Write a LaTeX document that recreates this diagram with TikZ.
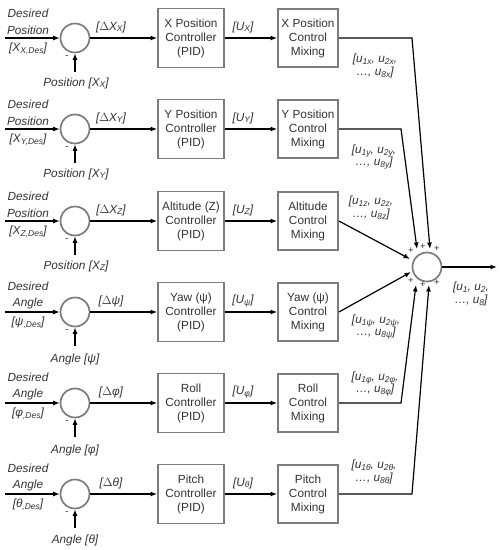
\documentclass[tikz,border=0pt]{standalone}
\usepackage{fontspec}
\setmainfont{Liberation Sans}
\usetikzlibrary{arrows.meta}
\definecolor{txtgray}{HTML}{333333}
\definecolor{boxgray}{HTML}{7c7c7c}
\newcommand{\sbs}[1]{\raisebox{-0.3ex}{\fontsize{8.5}{8.5}\selectfont #1}}
\tikzset{
  ctrlbox/.style={draw=boxgray, line width=1.8pt, minimum width=66pt, minimum height=59pt,
    align=center, text=txtgray, inner sep=0pt, font=\fontsize{11.8}{14}\selectfont},
  mixbox/.style={ctrlbox, minimum width=60pt, minimum height=58pt},
  sumc/.style={circle, draw=boxgray, line width=1.7pt, minimum size=29pt, inner sep=0pt},
  lbl/.style={font=\fontsize{11.8}{12.5}\selectfont\itshape, text=txtgray, align=center, inner sep=0pt},
  sgn/.style={font=\fontsize{9.5}{9.5}\selectfont, text=txtgray, inner sep=0pt},
  sig/.style={-{Latex[length=6.5pt,width=5pt]}, line width=1.2pt, black}
}
\begin{document}
\begin{tikzpicture}[x=1pt,y=-1pt]
\useasboundingbox (0,0) rectangle (500,550);

% ---------- sum ----------
\node[sumc] (sum) at (427,267) {};
\coordinate (out) at (497,267);
\draw[sig] (sum) -- (out);
\node[lbl] (outl) at (471,294) {[u\sbs{1}, u\sbs{2},\\\dots, u\sbs{8}]};
\node[sgn] (p1) at (411,251) {+};
\node[sgn] (p2) at (423,247) {+};
\node[sgn] (p3) at (437,249) {+};
\node[sgn] (p4) at (411,281) {+};
\node[sgn] (p5) at (423,285) {+};
\node[sgn] (p6) at (437,283) {+};

% ---------- row 1 ----------
\node[sumc] (e1) at (75,38) {};
\coordinate (in1) at (5,38);
\draw[sig] (in1) -- (e1);
\node[lbl] (da1) at (28,13) {Desired};
\node[lbl] (db1) at (28,30) {Position};
\node[lbl] (dc1) at (28,49) {[X\sbs{X,Des}]};
\coordinate (fb1) at (75,72);
\draw[sig] (fb1) -- (e1);
\node[lbl] (fl1) at (76,83) {Position [X\sbs{X}]};
\node[sgn] (m1) at (67,57) {-};
\node[ctrlbox] (c1) at (191,38) {X Position\\Controller\\(PID)};
\draw[sig] (e1) -- (c1);
\node[lbl] (dl1) at (111,27) {[$\Delta$X\sbs{X}]};
\node[mixbox] (x1) at (308,38) {X Position\\Control\\Mixing};
\draw[sig] (c1) -- (x1);
\node[lbl] (u1) at (243,27) {[U\sbs{X}]};
\node[lbl] (o1) at (375,66) {[u\sbs{1x}, u\sbs{2x},\\\dots, u\sbs{8x}]};
\coordinate (k1) at (412,38);
\coordinate (t1) at (430,249);
\draw[sig] (x1) -- (k1) -- (t1);

% ---------- row 2 ----------
\node[sumc] (e2) at (75,129) {};
\coordinate (in2) at (5,129);
\draw[sig] (in2) -- (e2);
\node[lbl] (da2) at (28,104) {Desired};
\node[lbl] (db2) at (28,121) {Position};
\node[lbl] (dc2) at (28,140) {[X\sbs{Y,Des}]};
\coordinate (fb2) at (75,163);
\draw[sig] (fb2) -- (e2);
\node[lbl] (fl2) at (76,174) {Position [X\sbs{Y}]};
\node[sgn] (m2) at (67,148) {-};
\node[ctrlbox] (c2) at (191,129) {Y Position\\Controller\\(PID)};
\draw[sig] (e2) -- (c2);
\node[lbl] (dl2) at (111,118) {[$\Delta$X\sbs{Y}]};
\node[mixbox] (x2) at (308,129) {Y Position\\Control\\Mixing};
\draw[sig] (c2) -- (x2);
\node[lbl] (u2) at (243,118) {[U\sbs{Y}]};
\node[lbl] (o2) at (374,157) {[u\sbs{1y}, u\sbs{2y},\\\dots, u\sbs{8y}]};
\coordinate (k2) at (401,129);
\coordinate (t2) at (417,249);
\draw[sig] (x2) -- (k2) -- (t2);

% ---------- row 3 ----------
\node[sumc] (e3) at (75,221) {};
\coordinate (in3) at (5,221);
\draw[sig] (in3) -- (e3);
\node[lbl] (da3) at (28,196) {Desired};
\node[lbl] (db3) at (28,213) {Position};
\node[lbl] (dc3) at (28,232) {[X\sbs{Z,Des}]};
\coordinate (fb3) at (75,255);
\draw[sig] (fb3) -- (e3);
\node[lbl] (fl3) at (76,266) {Position [X\sbs{Z}]};
\node[sgn] (m3) at (67,240) {-};
\node[ctrlbox] (c3) at (191,221) {Altitude (Z)\\Controller\\(PID)};
\draw[sig] (e3) -- (c3);
\node[lbl] (dl3) at (111,210) {[$\Delta$X\sbs{Z}]};
\node[mixbox] (x3) at (308,221) {Altitude\\Control\\Mixing};
\draw[sig] (c3) -- (x3);
\node[lbl] (u3) at (243,210) {[U\sbs{Z}]};
\node[lbl] (o3) at (371,208) {[u\sbs{1z}, u\sbs{2z},\\\dots, u\sbs{8z}]};
\coordinate (t3) at (410,259);
\draw[sig] (x3.east) -- (t3);

% ---------- row 4 ----------
\node[sumc] (e4) at (75,312) {};
\coordinate (in4) at (5,312);
\draw[sig] (in4) -- (e4);
\node[lbl] (da4) at (28,286) {Desired};
\node[lbl] (db4) at (28,303) {Angle};
\node[lbl] (dc4) at (28,323) {[ψ\sbs{,Des}]};
\coordinate (fb4) at (75,346);
\draw[sig] (fb4) -- (e4);
\node[lbl] (fl4) at (75,359) {Angle [ψ]};
\node[sgn] (m4) at (67,331) {-};
\node[ctrlbox] (c4) at (191,312) {Yaw (ψ)\\Controller\\(PID)};
\draw[sig] (e4) -- (c4);
\node[lbl] (dl4) at (111,301) {[$\Delta$ψ]};
\node[mixbox] (x4) at (308,312) {Yaw (ψ)\\Control\\Mixing};
\draw[sig] (c4) -- (x4);
\node[lbl] (u4) at (243,301) {[U\sbs{ψ}]};
\node[lbl] (o4) at (376,327) {[u\sbs{1ψ}, u\sbs{2ψ},\\\dots, u\sbs{8ψ}]};
\coordinate (t4) at (411,272);
\draw[sig] (x4.east) -- (t4);

% ---------- row 5 ----------
\node[sumc] (e5) at (75,403) {};
\coordinate (in5) at (5,403);
\draw[sig] (in5) -- (e5);
\node[lbl] (da5) at (28,377) {Desired};
\node[lbl] (db5) at (28,394) {Angle};
\node[lbl] (dc5) at (28,414) {[φ\sbs{,Des}]};
\coordinate (fb5) at (75,437);
\draw[sig] (fb5) -- (e5);
\node[lbl] (fl5) at (75,450) {Angle [φ]};
\node[sgn] (m5) at (67,422) {-};
\node[ctrlbox] (c5) at (191,403) {Roll\\Controller\\(PID)};
\draw[sig] (e5) -- (c5);
\node[lbl] (dl5) at (111,392) {[$\Delta$φ]};
\node[mixbox] (x5) at (308,403) {Roll\\Control\\Mixing};
\draw[sig] (c5) -- (x5);
\node[lbl] (u5) at (243,392) {[U\sbs{φ}]};
\node[lbl] (o5) at (375,384) {[u\sbs{1φ}, u\sbs{2φ},\\\dots, u\sbs{8φ}]};
\coordinate (k5) at (401,403);
\coordinate (t5) at (416,285);
\draw[sig] (x5) -- (k5) -- (t5);

% ---------- row 6 ----------
\node[sumc] (e6) at (75,494) {};
\coordinate (in6) at (5,494);
\draw[sig] (in6) -- (e6);
\node[lbl] (da6) at (28,468) {Desired};
\node[lbl] (db6) at (28,485) {Angle};
\node[lbl] (dc6) at (28,505) {[θ\sbs{,Des}]};
\coordinate (fb6) at (75,528);
\draw[sig] (fb6) -- (e6);
\node[lbl] (fl6) at (75,540) {Angle [θ]};
\node[sgn] (m6) at (67,513) {-};
\node[ctrlbox] (c6) at (191,494) {Pitch\\Controller\\(PID)};
\draw[sig] (e6) -- (c6);
\node[lbl] (dl6) at (111,483) {[$\Delta$θ]};
\node[mixbox] (x6) at (308,494) {Pitch\\Control\\Mixing};
\draw[sig] (c6) -- (x6);
\node[lbl] (u6) at (243,483) {[U\sbs{θ}]};
\node[lbl] (o6) at (374,472) {[u\sbs{1θ}, u\sbs{2θ},\\\dots, u\sbs{8θ}]};
\coordinate (k6) at (412,494);
\coordinate (t6) at (429,285);
\draw[sig] (x6) -- (k6) -- (t6);
\end{tikzpicture}
\end{document}
